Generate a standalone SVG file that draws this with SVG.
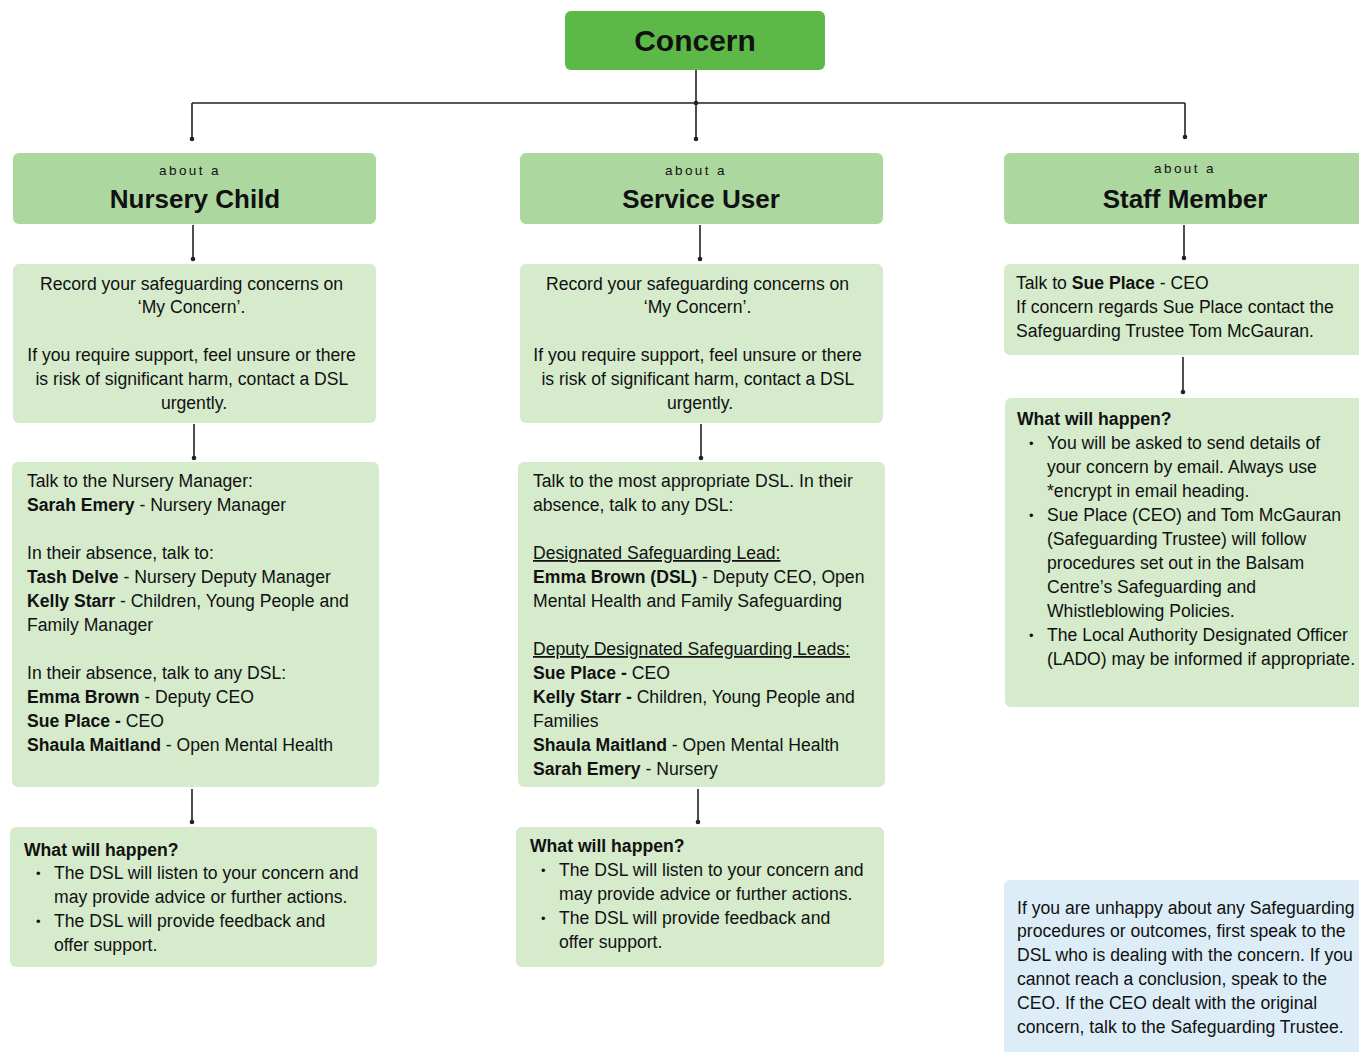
<svg xmlns="http://www.w3.org/2000/svg" width="1359" height="1052" viewBox="0 0 1359 1052">
<style>
text{font-family:"Liberation Sans",Arial,sans-serif;fill:#111;}
.t{font-size:17.6px;}
.c{text-anchor:middle;}
.b{font-weight:bold;}
.about{font-size:13.5px;letter-spacing:2.4px;text-anchor:middle;}
.title{font-size:26px;font-weight:bold;text-anchor:middle;}
.hdr{fill:#acd8a0;}
.box{fill:#d5ebcc;}
.blue{fill:#dcedf7;}
.ln{stroke:#222;stroke-width:1.6;fill:none;}
.u{text-decoration:underline;}
.bl{font-size:13px;}
</style>
<defs>
<marker id="dot" markerWidth="6" markerHeight="6" refX="3" refY="3" markerUnits="userSpaceOnUse"><circle cx="3" cy="3" r="2.3" fill="#222"/></marker>
</defs>
<rect width="1359" height="1052" fill="#fff"/>

<g id="connectors">
<path class="ln" d="M696 70V103"/>
<path class="ln" d="M192 103H1185"/>
<circle cx="696" cy="103" r="2.3" fill="#222"/>
<path class="ln" d="M192 103V139" marker-end="url(#dot)"/>
<path class="ln" d="M696 103V139" marker-end="url(#dot)"/>
<path class="ln" d="M1185 103V137" marker-end="url(#dot)"/>
<path class="ln" d="M193 225V259" marker-end="url(#dot)"/>
<path class="ln" d="M700 225V259" marker-end="url(#dot)"/>
<path class="ln" d="M1184 225V258" marker-end="url(#dot)"/>
<path class="ln" d="M194 424V458" marker-end="url(#dot)"/>
<path class="ln" d="M701 424V458" marker-end="url(#dot)"/>
<path class="ln" d="M1183 357V392" marker-end="url(#dot)"/>
<path class="ln" d="M192 789V822" marker-end="url(#dot)"/>
<path class="ln" d="M698 789V822" marker-end="url(#dot)"/>
</g>

<g id="concern">
<rect x="565" y="11" width="260" height="59" rx="6" fill="#5cb947"/>
<text x="695" y="51" class="c b" style="font-size:30px">Concern</text>
</g>

<g id="nursery-child">
<rect class="hdr" x="13" y="153" width="363" height="71" rx="6"/>
<text class="about" x="190" y="175">about a</text>
<text class="title" x="195" y="208">Nursery Child</text>
</g>
<g id="service-user">
<rect class="hdr" x="520" y="153" width="363" height="71" rx="6"/>
<text class="about" x="696" y="175">about a</text>
<text class="title" x="701" y="208">Service User</text>
</g>
<g id="staff-member">
<rect class="hdr" x="1004" y="153" width="370" height="71" rx="6"/>
<text class="about" x="1185" y="173">about a</text>
<text class="title" x="1185" y="208">Staff Member</text>
</g>

<g id="nursery-record">
<rect class="box" x="13" y="264" width="363" height="159" rx="6"/>
<text class="t c" x="194">
<tspan x="194" y="290">Record your safeguarding concerns on</tspan>
<tspan x="194" y="313">‘My Concern’.</tspan>
<tspan x="194" y="361">If you require support, feel unsure or there</tspan>
<tspan x="194" y="385">is risk of significant harm, contact a DSL</tspan>
<tspan x="194" y="409">urgently.</tspan>
</text>
</g>
<g id="service-record">
<rect class="box" x="520" y="264" width="363" height="159" rx="6"/>
<text class="t c" x="700">
<tspan x="700" y="290">Record your safeguarding concerns on</tspan>
<tspan x="700" y="313">‘My Concern’.</tspan>
<tspan x="700" y="361">If you require support, feel unsure or there</tspan>
<tspan x="700" y="385">is risk of significant harm, contact a DSL</tspan>
<tspan x="700" y="409">urgently.</tspan>
</text>
</g>
<g id="staff-talk">
<rect class="box" x="1004" y="264" width="370" height="91" rx="6"/>
<text class="t">
<tspan x="1016" y="289">Talk to <tspan class="b">Sue Place</tspan> - CEO</tspan>
<tspan x="1016" y="313">If concern regards Sue Place contact the</tspan>
<tspan x="1016" y="337">Safeguarding Trustee Tom McGauran.</tspan>
</text>
</g>

<g id="nursery-talk">
<rect class="box" x="12" y="462" width="367" height="325" rx="6"/>
<text class="t">
<tspan x="27" y="487">Talk to the Nursery Manager:</tspan>
<tspan x="27" y="511"><tspan class="b">Sarah Emery</tspan> - Nursery Manager</tspan>
<tspan x="27" y="559">In their absence, talk to:</tspan>
<tspan x="27" y="583"><tspan class="b">Tash Delve</tspan> - Nursery Deputy Manager</tspan>
<tspan x="27" y="607"><tspan class="b">Kelly Starr</tspan> - Children, Young People and</tspan>
<tspan x="27" y="631">Family Manager</tspan>
<tspan x="27" y="679">In their absence, talk to any DSL:</tspan>
<tspan x="27" y="703"><tspan class="b">Emma Brown</tspan> - Deputy CEO</tspan>
<tspan x="27" y="727"><tspan class="b">Sue Place -</tspan> CEO</tspan>
<tspan x="27" y="751"><tspan class="b">Shaula Maitland</tspan> - Open Mental Health</tspan>
</text>
</g>
<g id="service-talk">
<rect class="box" x="518" y="462" width="367" height="325" rx="6"/>
<text class="t">
<tspan x="533" y="487">Talk to the most appropriate DSL. In their</tspan>
<tspan x="533" y="511">absence, talk to any DSL:</tspan>
<tspan x="533" y="559" class="u">Designated Safeguarding Lead:</tspan>
<tspan x="533" y="583"><tspan class="b">Emma Brown (DSL)</tspan> - Deputy CEO, Open</tspan>
<tspan x="533" y="607">Mental Health and Family Safeguarding</tspan>
<tspan x="533" y="655" class="u">Deputy Designated Safeguarding Leads:</tspan>
<tspan x="533" y="679"><tspan class="b">Sue Place -</tspan> CEO</tspan>
<tspan x="533" y="703"><tspan class="b">Kelly Starr -</tspan> Children, Young People and</tspan>
<tspan x="533" y="727">Families</tspan>
<tspan x="533" y="751"><tspan class="b">Shaula Maitland</tspan> - Open Mental Health</tspan>
<tspan x="533" y="775"><tspan class="b">Sarah Emery</tspan> - Nursery</tspan>
</text>
</g>
<g id="staff-happen">
<rect class="box" x="1005" y="398" width="370" height="309" rx="6"/>
<text class="t">
<tspan x="1017" y="425" class="b">What will happen?</tspan>
<tspan x="1029" y="448" class="bl">•</tspan><tspan x="1047" y="449">You will be asked to send details of</tspan>
<tspan x="1047" y="473">your concern by email. Always use</tspan>
<tspan x="1047" y="497">*encrypt in email heading.</tspan>
<tspan x="1029" y="520" class="bl">•</tspan><tspan x="1047" y="521">Sue Place (CEO) and Tom McGauran</tspan>
<tspan x="1047" y="545">(Safeguarding Trustee) will follow</tspan>
<tspan x="1047" y="569">procedures set out in the Balsam</tspan>
<tspan x="1047" y="593">Centre’s Safeguarding and</tspan>
<tspan x="1047" y="617">Whistleblowing Policies.</tspan>
<tspan x="1029" y="640" class="bl">•</tspan><tspan x="1047" y="641">The Local Authority Designated Officer</tspan>
<tspan x="1047" y="665">(LADO) may be informed if appropriate.</tspan>
</text>
</g>

<g id="nursery-happen">
<rect class="box" x="10" y="827" width="367" height="140" rx="6"/>
<text class="t">
<tspan x="24" y="856" class="b">What will happen?</tspan>
<tspan x="36" y="878" class="bl">•</tspan><tspan x="54" y="879">The DSL will listen to your concern and</tspan>
<tspan x="54" y="903">may provide advice or further actions.</tspan>
<tspan x="36" y="926" class="bl">•</tspan><tspan x="54" y="927">The DSL will provide feedback and</tspan>
<tspan x="54" y="951">offer support.</tspan>
</text>
</g>
<g id="service-happen">
<rect class="box" x="516" y="827" width="368" height="140" rx="6"/>
<text class="t">
<tspan x="530" y="852" class="b">What will happen?</tspan>
<tspan x="541" y="875" class="bl">•</tspan><tspan x="559" y="876">The DSL will listen to your concern and</tspan>
<tspan x="559" y="900">may provide advice or further actions.</tspan>
<tspan x="541" y="923" class="bl">•</tspan><tspan x="559" y="924">The DSL will provide feedback and</tspan>
<tspan x="559" y="948">offer support.</tspan>
</text>
</g>

<g id="unhappy-note">
<rect class="blue" x="1004" y="880" width="370" height="190" rx="6"/>
<text class="t">
<tspan x="1017" y="914">If you are unhappy about any Safeguarding</tspan>
<tspan x="1017" y="937">procedures or outcomes, first speak to the</tspan>
<tspan x="1017" y="961">DSL who is dealing with the concern. If you</tspan>
<tspan x="1017" y="985">cannot reach a conclusion, speak to the</tspan>
<tspan x="1017" y="1009">CEO. If the CEO dealt with the original</tspan>
<tspan x="1017" y="1033">concern, talk to the Safeguarding Trustee.</tspan>
</text>
</g>
</svg>
